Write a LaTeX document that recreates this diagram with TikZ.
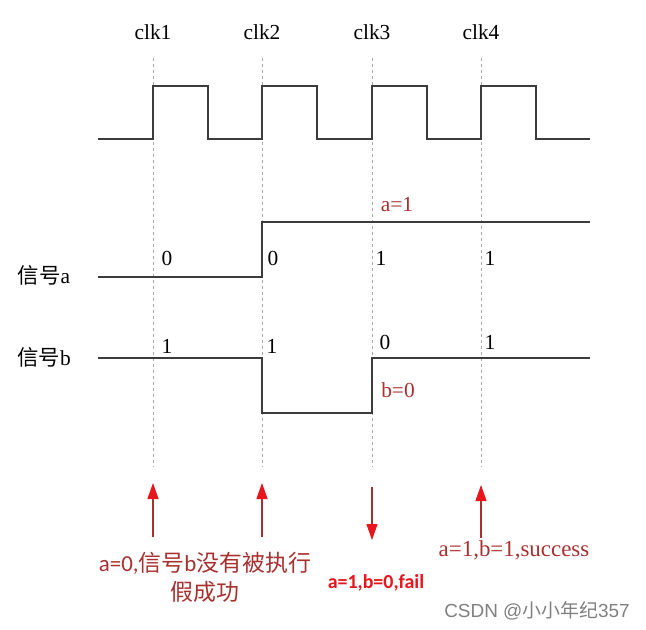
\documentclass[tikz,border=0pt]{standalone}
\usepackage{fontspec}
\setmainfont{Liberation Serif}
\newfontfamily\cjk{Noto Sans CJK SC}
\newfontfamily\calfont{Carlito}
\newfontfamily\marksans{Liberation Sans}
\usetikzlibrary{arrows.meta}
\definecolor{wire}{HTML}{3C3C3C}
\definecolor{guidegray}{HTML}{A8A8A8}
\definecolor{darkred}{HTML}{A8302F}
\definecolor{brightred}{HTML}{E8161C}
\tikzset{
  wave/.style={draw=wire, line width=1.4bp},
  guideline/.style={draw=guidegray, dash pattern=on 3bp off 3bp, line width=0.8bp},
  lbl/.style={font=\fontsize{21.5}{25}\selectfont, inner sep=0pt},
  note/.style={lbl, text=darkred},
  pointer/.style={draw=darkred, line width=1.2bp, -{Triangle[length=16bp,width=11bp,color=brightred]}},
}
\begin{document}
\begin{tikzpicture}[x=1bp,y=-1bp]
\useasboundingbox (0,0) rectangle (646,630);
% clock and guide lines
\foreach \x [count=\i] in {153,262,372,481}{
  \node[lbl] (clk\i) at (\x,32) {clk\i};
  \draw[guideline] (\x,58) -- (\x,467);
}
\draw[wave] (98,139) \foreach \x in {153,262,372,481} { -- (\x,139) -- (\x,86) -- (\x+55,86) -- (\x+55,139) } -- (590,139);

% signals
\node[lbl] (siga) at (44,275) {{\cjk 信号}a};
\node[lbl] (sigb) at (44,357) {{\cjk 信号}b};
\draw[wave] (98,277) -- (262,277) -- (262,222) -- (590,222);
\draw[wave] (98,358) -- (262,358) -- (262,413) -- (372,413) -- (372,358) -- (590,358);

\node[lbl] (a1) at (167,258) {0};
\node[lbl] (a2) at (273,258) {0};
\node[lbl] (a3) at (381,258) {1};
\node[lbl] (a4) at (490,258) {1};
\node[lbl] (b1) at (167,346) {1};
\node[lbl] (b2) at (272,346) {1};
\node[lbl] (b3) at (385,342) {0};
\node[lbl] (b4) at (490,342) {1};
\node[note] (aset) at (397,205) {a=1};
\node[note] (bset) at (398,390) {b=0};

% pointers
\coordinate (p1s) at (153,537); \coordinate (p1e) at (153,483);
\coordinate (p2s) at (262,537); \coordinate (p2e) at (262,483);
\coordinate (p3s) at (372,487); \coordinate (p3e) at (372,540);
\coordinate (p4s) at (481,538); \coordinate (p4e) at (481,485);
\draw[pointer] (p1s) -- (p1e);
\draw[pointer] (p2s) -- (p2e);
\draw[pointer] (p3s) -- (p3e);
\draw[pointer] (p4s) -- (p4e);

\node[note, font=\calfont\fontsize{23}{29}\selectfont, align=center] (fake) at (205,577)
  {a=0,{\cjk 信号}b{\cjk 没有被执行}\\{\cjk 假成功}};
\node[lbl, font=\calfont\bfseries\fontsize{20}{24}\selectfont, text=brightred] (fail) at (376,583) {a=1,b=0,fail};
\node[note, font=\fontsize{23}{27}\selectfont] (ok) at (514,550) {a=1,b=1,success};
\node[lbl, font=\marksans\fontsize{19}{22}\selectfont, text=gray] (mark) at (537,611) {CSDN @{\cjk 小小年纪}357};
\end{tikzpicture}
\end{document}
